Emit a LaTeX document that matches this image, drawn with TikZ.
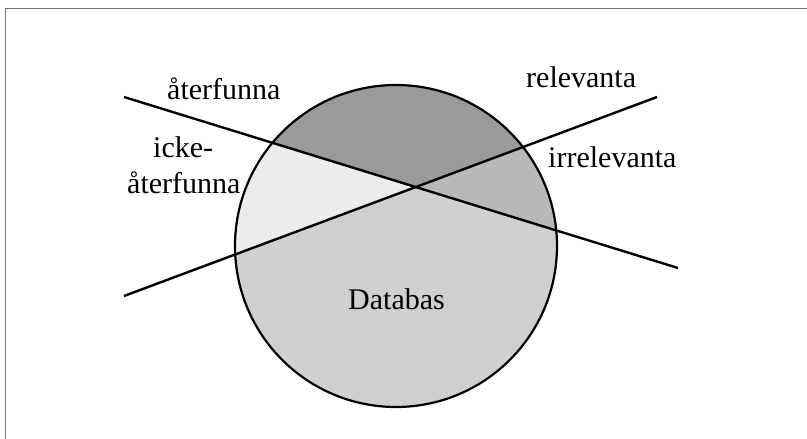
\documentclass[tikz,border=0pt]{standalone}
\usepackage{fontspec}
\setmainfont{Liberation Serif}
\begin{document}
\begin{tikzpicture}[x=1pt,y=-1pt,
  lbl/.style={anchor=base west,inner sep=0pt,font=\fontsize{30}{36}\selectfont},
  cut/.style={line width=2.4pt,black},
  frameline/.style={line width=1.3pt,color=gray!90!black}]
\definecolor{topgray}{HTML}{9A9A9A}
\definecolor{rightgray}{HTML}{B9B9B9}
\definecolor{leftgray}{HTML}{ECECEC}
\definecolor{basegray}{HTML}{D0D0D0}
\useasboundingbox (0,0) rectangle (807,439);
\fill[white] (0,0) rectangle (807,439);
% partial frame: top and left edges
\draw[frameline] (5.5,439) -- (5.5,8.5) -- (807,8.5);

% end points of the two cutting lines and their crossing
\coordinate (a1) at (124,97);
\coordinate (a2) at (678,268);
\coordinate (b1) at (124,296);
\coordinate (b2) at (657,97);
\coordinate (x) at (417,187);
\coordinate (c) at (396,246);

% database disc and its four regions
\fill[basegray] (c) circle[radius=161];
\begin{scope}
  \clip (c) circle[radius=161];
  \fill[topgray] (a1) -- (x) -- (b2) -- (657,0) -- (124,0) -- cycle;
  \fill[leftgray] (a1) -- (x) -- (b1) -- cycle;
  \fill[rightgray] (b2) -- (x) -- (a2) -- cycle;
\end{scope}
\draw[line width=2.2pt] (c) circle[radius=161];

% the two cutting lines
\draw[cut] (a1) -- (a2);
\draw[cut] (b1) -- (b2);

% labels
\node[lbl] (ret) at (167,99) {återfunna};
\node[lbl] (rel) at (526,87) {relevanta};
\node[lbl] (irr) at (548,167) {irrelevanta};
\node[lbl] (icke) at (153,157) {icke-};
\node[lbl] (nret) at (127,193) {återfunna};
\node[lbl] (db) at (348,309) {Databas};
\end{tikzpicture}
\end{document}
